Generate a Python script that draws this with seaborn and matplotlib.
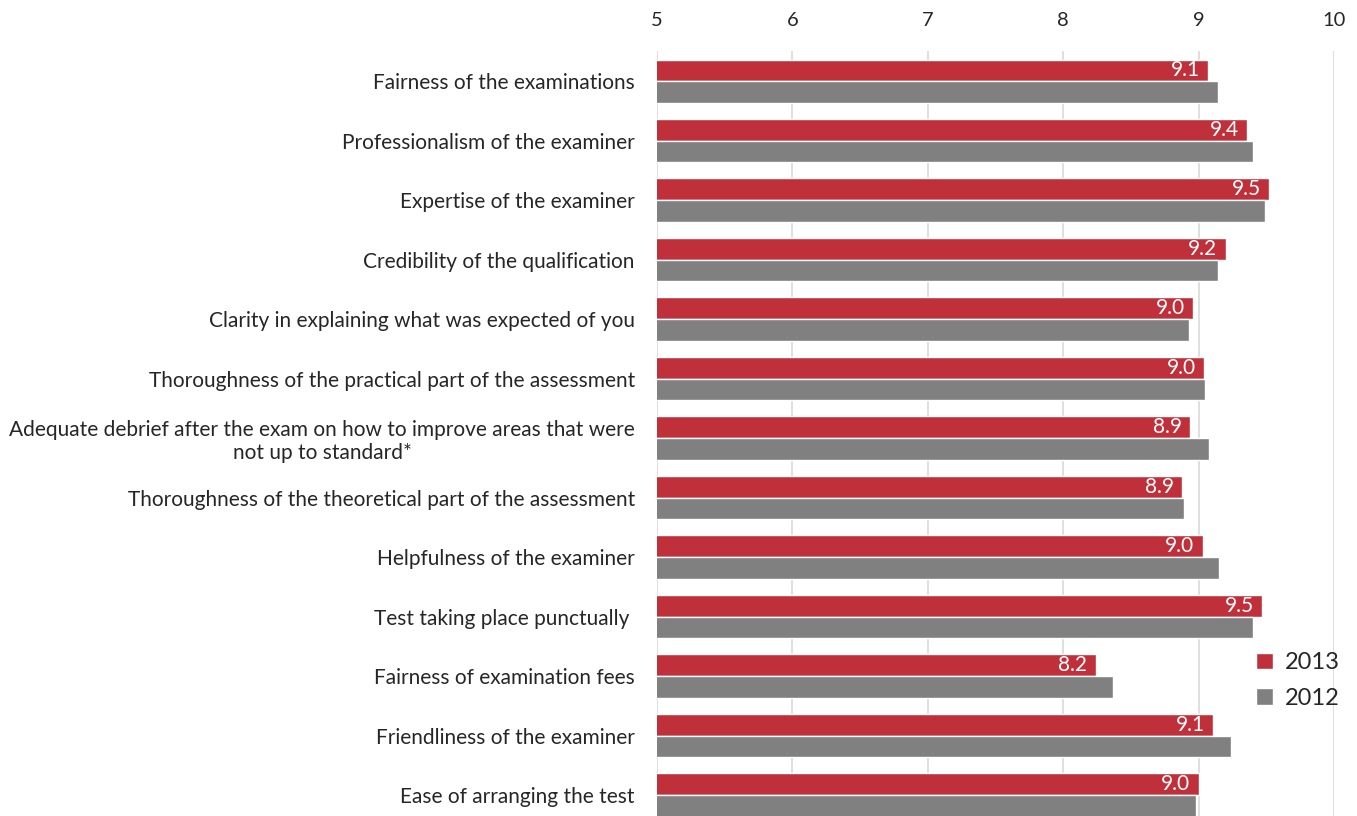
import pandas as pd
import seaborn as sns
import matplotlib.pyplot as plt

# Satisfaction scores per aspect, 2013 vs 2012
categories = [
    'Fairness of the examinations',
    'Professionalism of the examiner',
    'Expertise of the examiner',
    'Credibility of the qualification',
    'Clarity in explaining what was expected of you',
    'Thoroughness of the practical part of the assessment',
    'Adequate debrief after the exam on how to improve areas that were\nnot up to standard*',
    'Thoroughness of the theoretical part of the assessment',
    'Helpfulness of the examiner',
    'Test taking place punctually ',
    'Fairness of examination fees',
    'Friendliness of the examiner',
    'Ease of arranging the test',
]
scores_2013 = [9.07, 9.36, 9.52, 9.20, 8.96, 9.04, 8.94, 8.88, 9.03, 9.47, 8.24, 9.11, 9.00]
scores_2012 = [9.14, 9.40, 9.49, 9.14, 8.93, 9.05, 9.08, 8.89, 9.15, 9.40, 8.37, 9.24, 8.98]
years = ['2013', '2012']
colors = ['#C0303A', '#808080']

# long-form table for seaborn
df = pd.DataFrame({
    'aspect': categories * 2,
    'score': scores_2013 + scores_2012,
    'year': [years[0]] * len(categories) + [years[1]] * len(categories),
})

sns.set_style('white')
plt.rcParams['font.family'] = ['Lato', 'DejaVu Sans']

fig = plt.figure(figsize=(13.57, 8.16), dpi=100)
ax = fig.add_axes([0.4842, -0.0107, 0.4988, 0.9476])

sns.barplot(data=df, y='aspect', x='score', hue='year', hue_order=years,
            palette=colors, orient='h', width=0.73, ax=ax, saturation=1,
            errorbar=None, legend=True)

ax.set_xlim(5, 10)
ax.set_xticks(range(5, 11))
ax.xaxis.tick_top()
ax.tick_params(axis='x', length=0, pad=16, labelsize=14.5)
ax.tick_params(axis='y', length=0, pad=16, labelsize=15)
for lbl in ax.get_yticklabels():
    lbl.set_multialignment('center')
ax.set_xlabel('')
ax.set_ylabel('')
ax.grid(axis='x', color='#d9d9d9', linewidth=1.2)
ax.set_axisbelow(True)
for side in ax.spines:
    ax.spines[side].set_visible(False)

# value labels on the 2013 bars
texts = ax.bar_label(ax.containers[0], fmt='%.1f', padding=-6, color='white', fontsize=15)
for t in texts:
    t.set_ha('right')
    t.set_va('center')

ax.legend(loc='center left', bbox_to_anchor=(0.910, 0.166), bbox_transform=fig.transFigure,
          frameon=False, fontsize=17, handlelength=0.7, handleheight=0.7,
          handletextpad=0.5, labelspacing=0.6)

fig.savefig('out.png', dpi=100)
